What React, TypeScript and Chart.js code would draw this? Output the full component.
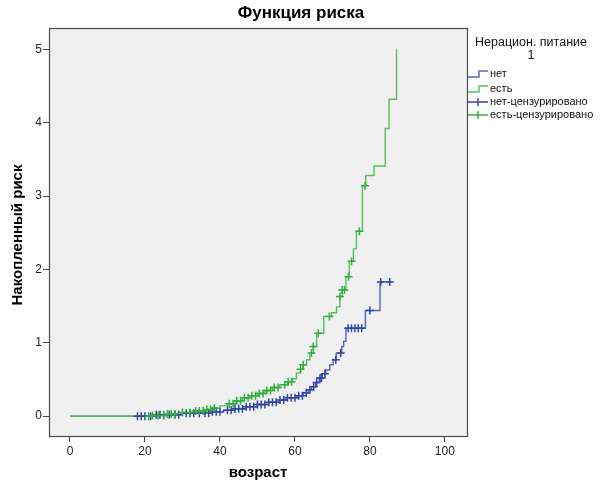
import { useEffect, useRef } from 'react';
import { Chart, registerables } from 'chart.js';

Chart.register(...registerables);

const chartTitle = 'Функция риска';
const xTitle = 'возраст';
const yTitle = 'Накопленный риск';
const legendTitle = 'Нерацион. питание';
const legendSubTitle = '1';
const legendLabels = ['нет', 'есть', 'нет-цензурировано', 'есть-цензурировано'];

const ageTicks = [0, 20, 40, 60, 80, 100];
const riskTicks = [0, 1, 2, 3, 4, 5];

// group "нет": event times and cumulative hazard after each
const netTimes = [0, 23, 30, 38, 41, 44, 47, 50, 53, 56, 58, 60.4, 62.2, 63.5, 64.4, 65.5, 66.5, 67.3, 68.2, 69.3, 70.2, 71.0, 72.5, 73.0, 73.6, 78.8, 82.7, 85.8];
const netRisk = [0, 0.02, 0.04, 0.06, 0.08, 0.10, 0.13, 0.16, 0.19, 0.22, 0.25, 0.28, 0.32, 0.36, 0.40, 0.46, 0.52, 0.58, 0.63, 0.70, 0.77, 0.86, 0.95, 1.02, 1.20, 1.44, 1.83, 1.83];
const netCensored = [18, 19, 20, 21.5, 23, 24, 25, 26.5, 28, 29, 31, 32, 33, 34.5, 36, 37, 38, 39, 40, 42, 43, 44, 45, 46, 47, 48, 49, 50, 51, 52, 53, 54, 55, 56, 57, 58, 59, 60, 61, 62, 63, 64, 65, 65.8, 66.7, 67.1, 68, 70.9, 72.2, 74.2, 75.1, 76, 76.9, 77.8, 80, 82.9, 85.3];

// group "есть"
const estTimes = [0, 22, 26, 30, 33, 36, 38, 40, 42, 44, 46, 48, 50, 52, 54, 56, 58, 59.3, 60.4, 61.5, 62.2, 63.1, 64.0, 64.9, 65.8, 67.7, 69.8, 71.1, 72.0, 72.6, 73.6, 74.5, 75.6, 76.4, 78.0, 78.9, 81.1, 84.1, 85.1, 87.1];
const estRisk = [0, 0.01, 0.03, 0.05, 0.07, 0.09, 0.11, 0.14, 0.17, 0.21, 0.25, 0.28, 0.31, 0.35, 0.39, 0.43, 0.47, 0.51, 0.59, 0.64, 0.70, 0.77, 0.86, 0.95, 1.13, 1.36, 1.41, 1.49, 1.63, 1.72, 1.90, 2.11, 2.28, 2.52, 3.14, 3.28, 3.41, 3.92, 4.32, 5.00];
const estCensored = [21, 22, 23.5, 25, 26, 27, 28, 30, 32, 33.5, 34.5, 35.5, 36.5, 37.5, 38.5, 42.5, 43.5, 44.5, 45.5, 46.5, 47.5, 48.5, 49.5, 50.5, 51.5, 52.5, 53.5, 54.5, 55.5, 57.3, 58.2, 59.1, 61.5, 62.2, 64.4, 64.9, 66.2, 69.2, 72.0, 72.6, 73.2, 74.3, 75.1, 77.2, 78.7];

const BLUE_LINE = '#5366b8';
const BLUE_MARK = '#3145a6';
const GREEN_LINE = '#55c15c';
const GREEN_MARK = '#33ad3d';
const FONT = "'Liberation Sans', Arial, sans-serif";

function hazardAt(times: number[], vals: number[], t: number) {
  let v = 0;
  for (let i = 0; i < times.length; i++) if (times[i] <= t) v = vals[i];
  return v;
}

const steps = (times: number[], vals: number[]) => times.map((t, i) => ({ x: t, y: vals[i] }));
const marks = (cens: number[], times: number[], vals: number[]) => cens.map((t) => ({ x: t, y: hazardAt(times, vals, t) }));

const decorPlugin = {
  id: 'decor',
  beforeDraw(chart: any) {
    const { ctx, chartArea: a } = chart;
    ctx.save();
    ctx.fillStyle = '#ffffff';
    ctx.fillRect(0, 0, chart.width, chart.height);
    ctx.fillStyle = '#f0f0f0';
    ctx.fillRect(a.left, a.top, a.right - a.left, a.bottom - a.top);
    ctx.restore();
  },
  afterDraw(chart: any) {
    const { ctx, chartArea: a } = chart;
    ctx.save();
    ctx.strokeStyle = '#4a4a4a';
    ctx.lineWidth = 1.2;
    ctx.strokeRect(Math.round(a.left) + 0.5, Math.round(a.top) + 0.5, Math.round(a.right - a.left), Math.round(a.bottom - a.top));

    ctx.fillStyle = '#000';
    ctx.textAlign = 'center';
    ctx.textBaseline = 'middle';
    ctx.font = `bold 17px ${FONT}`;
    ctx.fillText(chartTitle, 301, 13);

    ctx.font = `bold 15px ${FONT}`;
    ctx.fillText(xTitle, (a.left + a.right) / 2, 473);

    ctx.save();
    ctx.translate(18, (a.top + a.bottom) / 2 + 3);
    ctx.rotate(-Math.PI / 2);
    ctx.font = `bold 15px ${FONT}`;
    ctx.fillText(yTitle, 0, 0);
    ctx.restore();

    ctx.font = `12.5px ${FONT}`;
    ctx.fillStyle = '#111';
    ctx.fillText(legendTitle, 531, 43);
    ctx.fillText(legendSubTitle, 531, 56);

    const ys = [74, 89, 102, 115];
    const cols = [BLUE_LINE, GREEN_LINE, BLUE_MARK, GREEN_MARK];
    ctx.textAlign = 'left';
    ctx.font = `11px ${FONT}`;
    ys.forEach((y, i) => {
      ctx.strokeStyle = cols[i];
      ctx.lineWidth = 1.4;
      ctx.beginPath();
      if (i < 2) {
        ctx.moveTo(468, y + 3);
        ctx.lineTo(479, y + 3);
        ctx.lineTo(479, y - 3);
        ctx.lineTo(488, y - 3);
      } else {
        ctx.moveTo(468, y);
        ctx.lineTo(488, y);
        ctx.moveTo(478, y - 4);
        ctx.lineTo(478, y + 4);
      }
      ctx.stroke();
      ctx.fillStyle = '#111';
      ctx.fillText(legendLabels[i], 490, y);
    });
    ctx.restore();
  },
};

export default function App() {
  const ref = useRef<HTMLCanvasElement>(null);
  useEffect(() => {
    const chart = new Chart(ref.current as HTMLCanvasElement, {
      type: 'scatter',
      data: {
        datasets: [
          {
            label: legendLabels[3],
            data: marks(estCensored, estTimes, estRisk),
            pointStyle: 'cross',
            pointRadius: 4,
            pointBorderWidth: 1.5,
            borderColor: GREEN_MARK,
            backgroundColor: GREEN_MARK,
            showLine: false,
          },
          {
            label: legendLabels[2],
            data: marks(netCensored, netTimes, netRisk),
            pointStyle: 'cross',
            pointRadius: 4,
            pointBorderWidth: 1.5,
            borderColor: BLUE_MARK,
            backgroundColor: BLUE_MARK,
            showLine: false,
          },
          {
            label: legendLabels[1],
            data: steps(estTimes, estRisk),
            showLine: true,
            stepped: 'before',
            borderColor: GREEN_LINE,
            borderWidth: 1.4,
            pointRadius: 0,
            fill: false,
          },
          {
            label: legendLabels[0],
            data: steps(netTimes, netRisk),
            showLine: true,
            stepped: 'before',
            borderColor: BLUE_LINE,
            borderWidth: 1.4,
            pointRadius: 0,
            fill: false,
          },
        ] as any,
      },
      options: {
        animation: false,
        responsive: false,
        layout: { padding: { top: 28, right: 136, left: 0, bottom: 0 } },
        plugins: { legend: { display: false }, title: { display: false }, tooltip: { enabled: false } },
        scales: {
          x: {
            type: 'linear',
            min: -5.6,
            max: 105.9,
            afterBuildTicks: (s: any) => { s.ticks = ageTicks.map((v) => ({ value: v })); },
            afterFit: (s: any) => { s.height = 46; },
            grid: { drawOnChartArea: false, drawTicks: true, tickLength: 6, color: '#4a4a4a', lineWidth: 1 },
            border: { display: false },
            ticks: { font: { family: FONT, size: 12 }, color: '#222', padding: 2, maxRotation: 0, autoSkip: false },
          },
          y: {
            type: 'linear',
            min: -0.27,
            max: 5.29,
            afterBuildTicks: (s: any) => { s.ticks = riskTicks.map((v) => ({ value: v })); },
            afterFit: (s: any) => { s.width = 49; },
            grid: { drawOnChartArea: false, drawTicks: true, tickLength: 6, color: '#4a4a4a', lineWidth: 1 },
            border: { display: false },
            ticks: { font: { family: FONT, size: 12 }, color: '#222', padding: 1, autoSkip: false },
          },
        },
      } as any,
      plugins: [decorPlugin],
    });
    return () => chart.destroy();
  }, []);
  return (
    <div style={{ position: 'absolute', left: 0, top: 0, width: 603, height: 482, background: '#fff' }}>
      <canvas ref={ref} width={603} height={482} style={{ display: 'block', width: 603, height: 482 }} />
    </div>
  );
}
